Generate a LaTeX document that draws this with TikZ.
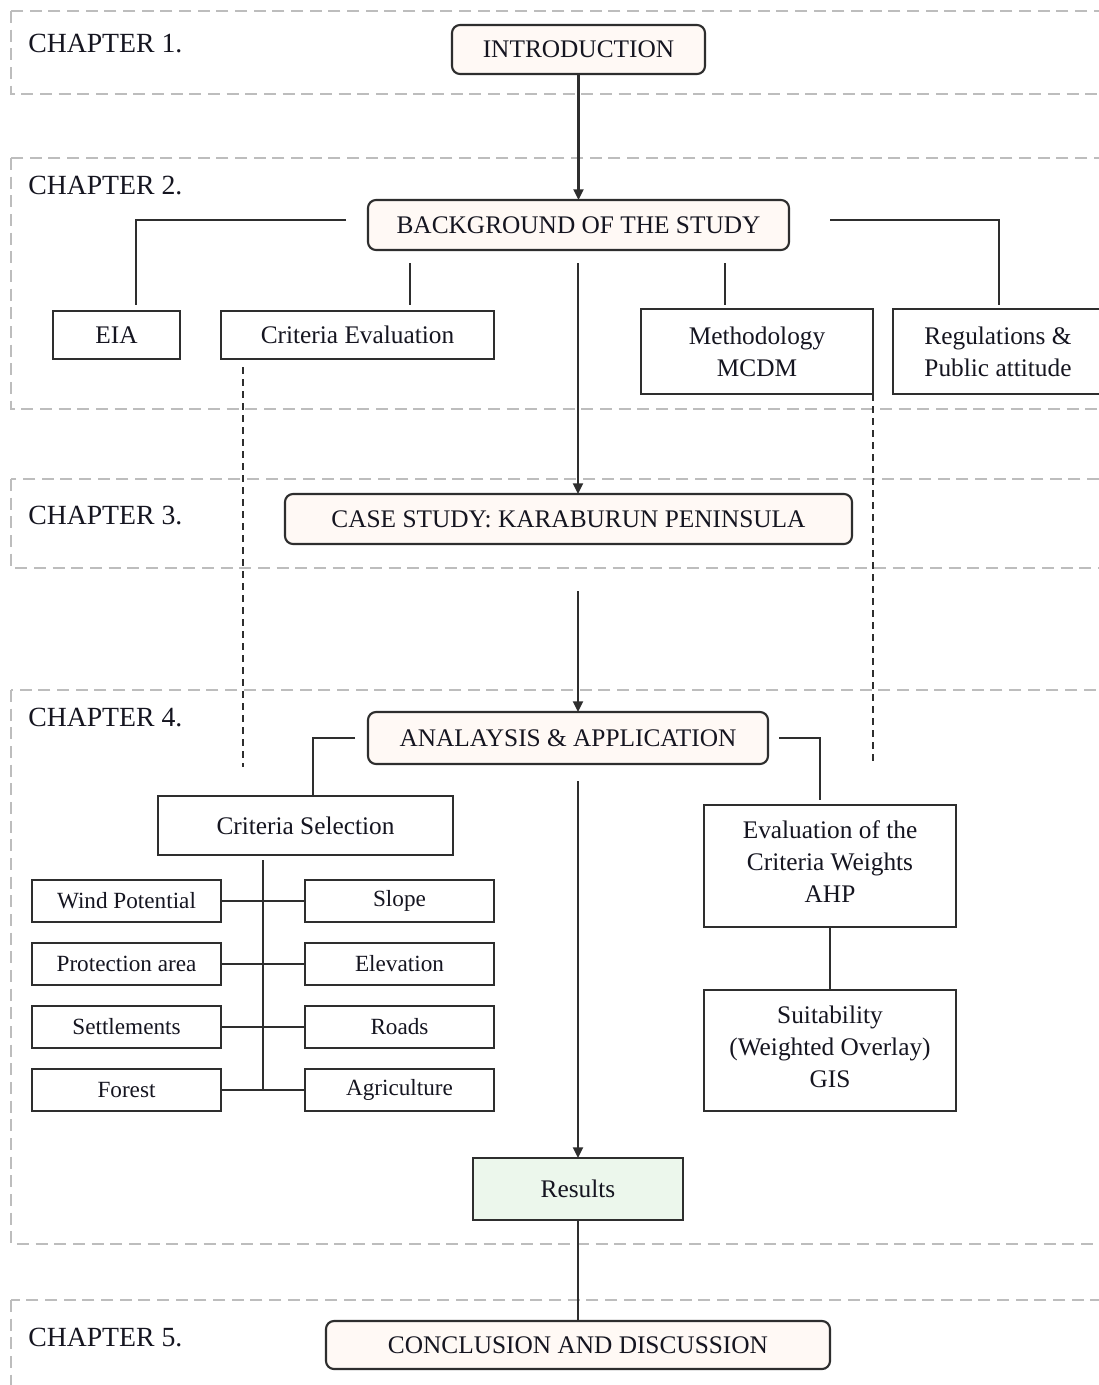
\documentclass[tikz,border=0pt]{standalone}
\usepackage{fontspec}
\setmainfont{Liberation Serif}
\usetikzlibrary{arrows.meta}
\definecolor{boxpeach}{HTML}{FFF9F5}
\definecolor{boxgreen}{HTML}{ECF7EC}
\definecolor{regiongray}{HTML}{BDBDBD}
\definecolor{inkgray}{HTML}{2E2E2E}
\definecolor{textink}{HTML}{151520}
\begin{document}
\begin{tikzpicture}[x=0.75pt,y=-0.75pt,
  region/.style={draw=regiongray, line width=1.5pt, dash pattern=on 9pt off 5pt},
  chap/.style={anchor=base west, inner sep=0, text=textink, font=\fontsize{20.8}{24}\selectfont},
  boxsize/.style n args={2}{minimum width=#1*0.75pt, minimum height=#2*0.75pt},
  sqbox/.style={draw=inkgray, line width=1.6pt, fill=white, inner sep=0, outer sep=0, align=center, text=textink, font=\fontsize{19}{24}\selectfont},
  rbox/.style={sqbox, rounded corners=6pt, fill=boxpeach},
  smallbox/.style={sqbox, boxsize={189}{42}, font=\fontsize{17.4}{20}\selectfont},
  conn/.style={draw=inkgray, line width=1.6pt},
  arr/.style={conn, -{Triangle[length=8pt,width=7.5pt]}},
  guide/.style={draw=inkgray, line width=1.5pt, dash pattern=on 5.5pt off 3.5pt},
]
\clip (0,0) rectangle (1099,1385);
\fill[white] (0,0) rectangle (1099,1385);

% chapter bands
\draw[region] (11,11) rectangle (1110,94);
\draw[region] (11,158) rectangle (1110,409);
\draw[region] (11,479) rectangle (1110,568);
\draw[region] (11,690) rectangle (1110,1244);
\draw[region] (11,1300) rectangle (1110,1400);

\node[chap] (c1) at (28,52) {CHAPTER 1.};
\node[chap] (c2) at (28,194) {CHAPTER 2.};
\node[chap] (c3) at (28,524) {CHAPTER 3.};
\node[chap] (c4) at (28,726) {CHAPTER 4.};
\node[chap] (c5) at (28,1346) {CHAPTER 5.};

% chapter 1 and 2
\node[rbox, boxsize={253}{49}] (intro) at (578.5,49.5) {INTRODUCTION};
\node[rbox, boxsize={421}{50}] (bg) at (578.5,225) {BACKGROUND OF THE STUDY};
\node[sqbox, boxsize={127}{48}] (eia) at (116.5,335) {EIA};
\node[sqbox, boxsize={273}{48}] (ceval) at (357.5,335) {Criteria Evaluation};
\node[sqbox, boxsize={232}{85}] (mcdm) at (757,351.5) {Methodology\\MCDM};
\node[sqbox, boxsize={210}{85}] (regs) at (998,351.5) {Regulations \&\\Public attitude};

% chapter 3
\node[rbox, boxsize={567}{50}] (case) at (568.5,519) {CASE STUDY: KARABURUN PENINSULA};

% chapter 4
\node[rbox, boxsize={400}{52}] (ana) at (568,738) {ANALAYSIS \& APPLICATION};
\node[sqbox, boxsize={295}{59}] (crit) at (305.5,825.5) {Criteria Selection};

\node[smallbox] (wind) at (126.5,901) {Wind Potential};
\node[smallbox] (prot) at (126.5,964) {Protection area};
\node[smallbox] (sett) at (126.5,1027) {Settlements};
\node[smallbox] (forest) at (126.5,1090) {Forest};
\node[smallbox] (slope) at (399.5,901) {Slope};
\node[smallbox] (elev) at (399.5,964) {Elevation};
\node[smallbox] (roads) at (399.5,1027) {Roads};
\node[smallbox] (agri) at (399.5,1090) {Agriculture};

% the trailing short line lifts the text block slightly above centre
\node[sqbox, boxsize={252}{122}] (weights) at (830,866) {Evaluation of the\\Criteria Weights\\AHP\\[-17pt]};
\node[sqbox, boxsize={252}{121}] (suit) at (830,1050.5) {Suitability\\(Weighted Overlay)\\GIS\\[-18pt]};

\node[sqbox, fill=boxgreen, boxsize={210}{62}] (res) at (578,1189) {Results};

% chapter 5
\node[rbox, boxsize={504}{48}] (concl) at (578,1345) {CONCLUSION AND DISCUSSION};

% connector end points
\coordinate (bgl) at (346,220);
\coordinate (eiat) at (136,305);
\coordinate (bgr) at (830,220);
\coordinate (regt) at (999,305);
\coordinate (bgs1) at (410,263);
\coordinate (bgs2) at (578,263);
\coordinate (bgs3) at (725,263);
\coordinate (cevd) at (243,367);
\coordinate (cs) at (578,591);
\coordinate (anl) at (355,738);
\coordinate (critt) at (313,796);
\coordinate (anr) at (779,738);
\coordinate (wtt) at (820,800);
\coordinate (trunk) at (263,860);
\coordinate (ans) at (578,781);

% connectors
\draw[arr] (intro.south) -- (bg.north);
\draw[conn] (bgl) -| (eiat);
\draw[conn] (bgr) -| (regt);
\draw[conn] (bgs1) -- ++(0,42);
\draw[conn] (bgs3) -- ++(0,42);
\draw[arr] (bgs2) -- (bgs2 |- case.north);

\draw[guide] (cevd) -- ++(0,400);
\draw[guide] (mcdm.south east) -- ++(0,371);

\draw[arr] (cs) -- (cs |- ana.north);
\draw[conn] (anl) -| (critt);
\draw[conn] (anr) -| (wtt);

\draw[conn] (trunk) -- (trunk |- forest.east);
\draw[conn] (wind.east) -- (slope.west);
\draw[conn] (prot.east) -- (elev.west);
\draw[conn] (sett.east) -- (roads.west);
\draw[conn] (forest.east) -- (agri.west);

\draw[conn] (weights.south) -- (suit.north);
\draw[arr] (ans) -- (res.north);
\draw[conn] (res.south) -- (concl.north);
\end{tikzpicture}
\end{document}
